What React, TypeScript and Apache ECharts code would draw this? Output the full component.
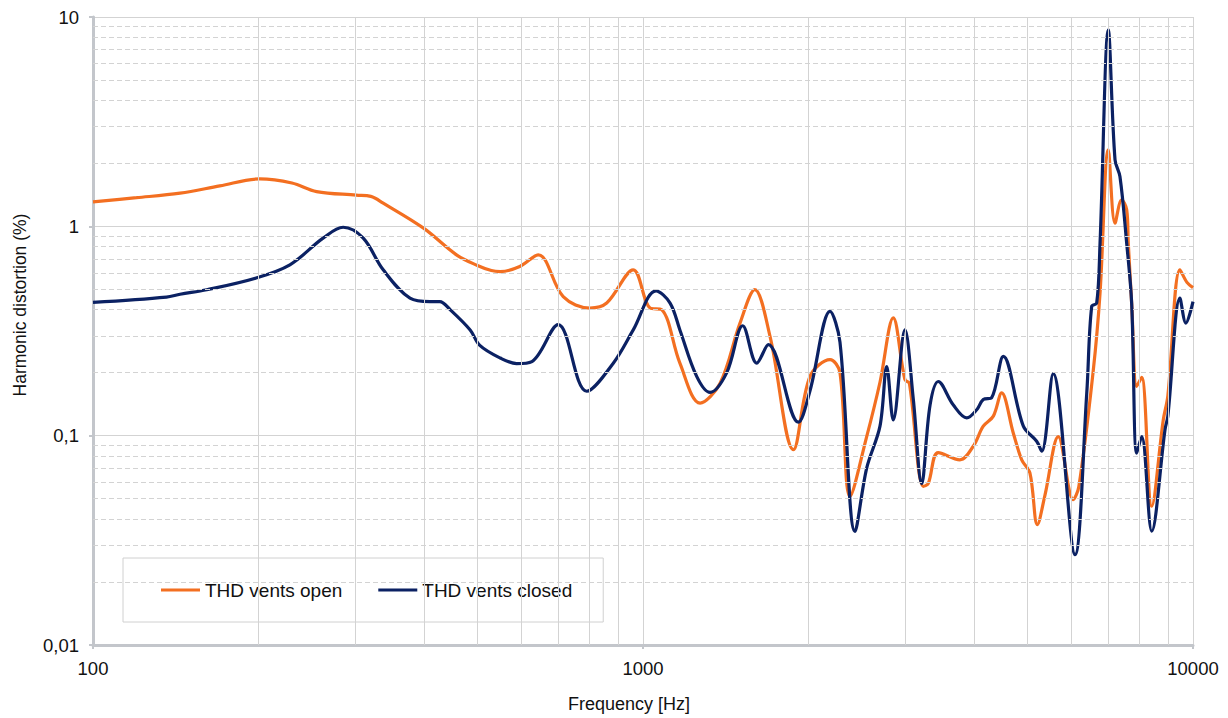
import React, { useEffect, useRef } from "react";
import * as echarts from "echarts";

const openFreq = [100, 120, 144, 170, 201, 230, 255, 301, 320, 337, 399, 458, 500, 530, 550, 597, 645, 716, 801, 859, 960, 1030, 1081, 1167, 1270, 1381, 1501, 1597, 1702, 1877, 2012, 2188, 2281, 2379, 2551, 2697, 2851, 2994, 3050, 3234, 3300, 3443, 3769, 3985, 4156, 4335, 4488, 4712, 4882, 5052, 5212, 5381, 5689, 6059, 6200, 6588, 6776, 7014, 7215, 7418, 7576, 7627, 7735, 7900, 8067, 8414, 8831, 9000, 9468, 9750, 10000];
const openThd = [1.31, 1.37, 1.44, 1.56, 1.685, 1.61, 1.466, 1.41, 1.39, 1.29, 0.98, 0.731, 0.65, 0.615, 0.608, 0.643, 0.731, 0.462, 0.407, 0.43, 0.62, 0.407, 0.4, 0.222, 0.143, 0.178, 0.345, 0.498, 0.298, 0.0857, 0.192, 0.231, 0.2, 0.0513, 0.099, 0.18, 0.365, 0.185, 0.178, 0.0573, 0.059, 0.083, 0.0767, 0.089, 0.111, 0.124, 0.16, 0.103, 0.0767, 0.0664, 0.0376, 0.052, 0.099, 0.0495, 0.057, 0.206, 0.48, 2.32, 1.036, 1.34, 1.2, 0.83, 0.43, 0.172, 0.19, 0.046, 0.119, 0.155, 0.62, 0.54, 0.51];

const closedFreq = [100, 136, 144, 161, 198, 228, 262, 285, 310, 337, 377, 410, 427, 446, 485, 505, 550, 589, 628, 701, 790, 883, 960, 1056, 1120, 1167, 1252, 1324, 1420, 1518, 1610, 1690, 1916, 2012, 2188, 2281, 2429, 2551, 2697, 2774, 2851, 2994, 3101, 3211, 3326, 3443, 3667, 3878, 4044, 4156, 4305, 4520, 4915, 5197, 5309, 5570, 6103, 6410, 6543, 6682, 6776, 7014, 7215, 7365, 7576, 7735, 7900, 8067, 8414, 8895, 9000, 9468, 9706, 10000];
const closedThd = [0.433, 0.459, 0.474, 0.498, 0.567, 0.655, 0.878, 0.99, 0.878, 0.62, 0.454, 0.437, 0.437, 0.4, 0.32, 0.27, 0.235, 0.221, 0.226, 0.339, 0.163, 0.222, 0.32, 0.492, 0.43, 0.32, 0.192, 0.161, 0.2, 0.335, 0.222, 0.272, 0.116, 0.164, 0.392, 0.28, 0.0349, 0.07, 0.111, 0.214, 0.119, 0.32, 0.149, 0.059, 0.14, 0.1815, 0.14, 0.1215, 0.133, 0.149, 0.152, 0.239, 0.111, 0.094, 0.0843, 0.198, 0.027, 0.16, 0.414, 0.43, 0.83, 8.67, 2.08, 1.73, 0.83, 0.43, 0.0826, 0.099, 0.035, 0.107, 0.124, 0.454, 0.345, 0.437];

const xMinorGrid = [200, 300, 400, 500, 600, 700, 800, 900, 2000, 3000, 4000, 5000, 6000, 7000, 8000, 9000];
const yMinorGrid = [0.02, 0.03, 0.04, 0.05, 0.06, 0.07, 0.08, 0.09, 0.2, 0.3, 0.4, 0.5, 0.6, 0.7, 0.8, 0.9, 2, 3, 4, 5, 6, 7, 8, 9];
const yTickLabels = ["0,01", "0,1", "1", "10"];
const xTickLabels = ["100", "1000", "10000"];

const seriesNames = ["THD vents open", "THD vents closed"];
const FONT = "'Liberation Sans', Arial, sans-serif";
const GRID_COLOR = "#d3d3d3";

export default function App() {
  const ref = useRef<HTMLDivElement>(null);
  useEffect(() => {
    document.body.style.margin = "0";
    if (!ref.current) return;
    const chart = echarts.init(ref.current, undefined, { renderer: "svg" });
    const openData = openFreq.map((f, i) => [f, openThd[i]]);
    const closedData = closedFreq.map((f, i) => [f, closedThd[i]]);
    chart.setOption({
      animation: false,
      backgroundColor: "#ffffff",
      textStyle: { fontFamily: FONT },
      grid: { left: 93, top: 17, width: 1100, height: 628, containLabel: false },
      legend: {
        data: seriesNames,
        left: 123,
        top: 558,
        orient: "horizontal",
        icon: "rect",
        itemWidth: 39,
        itemHeight: 3,
        itemGap: 36,
        padding: [22, 31, 22, 38],
        backgroundColor: "#ffffff",
        borderColor: "#d0d0d0",
        borderWidth: 1,
        textStyle: { fontFamily: FONT, fontSize: 19, color: "#111", lineHeight: 20 },
      },
      xAxis: {
        type: "log",
        logBase: 10,
        min: 100,
        max: 10000,
        name: "Frequency [Hz]",
        nameLocation: "middle",
        nameGap: 50,
        nameTextStyle: { fontFamily: FONT, fontSize: 18, color: "#111", padding: [0, 28, 0, 0] },
        axisLine: { show: true, lineStyle: { color: "#c3c6cb", width: 3 } },
        axisTick: { show: true, length: 4, lineStyle: { color: "#c3c6cb", width: 2 } },
        axisLabel: {
          margin: 14,
          fontFamily: FONT,
          fontSize: 18.5,
          color: "#111",
          formatter: (v: number) => xTickLabels[Math.round(Math.log10(v)) - 2] ?? "",
        },
        splitLine: { show: true, lineStyle: { color: GRID_COLOR, width: 1 } },
      },
      yAxis: {
        type: "log",
        logBase: 10,
        min: 0.01,
        max: 10,
        name: "Harmonic distortion (%)",
        nameLocation: "middle",
        nameGap: 64,
        nameTextStyle: { fontFamily: FONT, fontSize: 17.5, color: "#111", padding: [0, 0, 0, 52] },
        axisLine: { show: true, lineStyle: { color: "#c3c6cb", width: 3 } },
        axisTick: { show: true, length: 4, lineStyle: { color: "#c3c6cb", width: 2 } },
        axisLabel: {
          margin: 14,
          fontFamily: FONT,
          fontSize: 18.5,
          color: "#111",
          formatter: (v: number) => yTickLabels[Math.round(Math.log10(v)) + 2] ?? "",
        },
        splitLine: { show: true, lineStyle: { color: GRID_COLOR, width: 1 } },
      },
      series: [
        {
          type: "line",
          name: "gridX",
          data: [],
          silent: true,
          z: 1,
          markLine: {
            silent: true,
            symbol: ["none", "none"],
            label: { show: false },
            emphasis: { disabled: true },
            lineStyle: { color: GRID_COLOR, width: 1, type: "solid" },
            data: xMinorGrid.map((v) => ({ xAxis: v })),
          },
        },
        {
          type: "line",
          name: "gridY",
          data: [],
          silent: true,
          z: 1,
          markLine: {
            silent: true,
            symbol: ["none", "none"],
            label: { show: false },
            emphasis: { disabled: true },
            lineStyle: { color: GRID_COLOR, width: 1, type: [5, 3] },
            data: yMinorGrid.map((v) => ({ yAxis: v })),
          },
        },
        {
          type: "line",
          name: seriesNames[0],
          data: openData,
          smooth: 0.35,
          showSymbol: false,
          symbol: "none",
          z: 3,
          itemStyle: { color: "#F36F21" },
          lineStyle: { color: "#F36F21", width: 3.2 },
        },
        {
          type: "line",
          name: seriesNames[1],
          data: closedData,
          smooth: 0.35,
          showSymbol: false,
          symbol: "none",
          z: 4,
          itemStyle: { color: "#0B2163" },
          lineStyle: { color: "#0B2163", width: 3.2 },
        },
      ],
    });
    return () => chart.dispose();
  }, []);
  return <div ref={ref} style={{ width: 1228, height: 718 }} />;
}
